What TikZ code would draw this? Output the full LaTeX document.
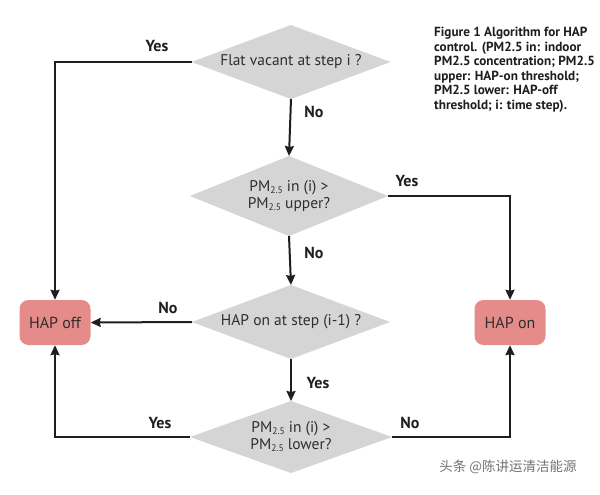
\documentclass[tikz,border=0pt]{standalone}
\usepackage{fontspec}
\setmainfont{PT Sans}
\newfontfamily\cjk{Noto Sans CJK SC}
\usetikzlibrary{arrows.meta}
\definecolor{dgrey}{HTML}{D5D5D5}
\definecolor{salmon}{HTML}{E58C8A}
\definecolor{ink}{HTML}{2E2E2E}
\definecolor{lineink}{HTML}{1E1E1E}
\newcommand{\pmsub}{PM{\fontsize{9.5}{9.5}\selectfont\raisebox{-2pt}{2.5}}}
% #1 name, #2 x, #3 y, #4 half width, #5 half height, #6 text
\newcommand{\decisionat}[6]{%
  \coordinate (#1-w) at (#2-#4,#3);
  \coordinate (#1-e) at (#2+#4,#3);
  \coordinate (#1-n) at (#2,#3-#5);
  \coordinate (#1-s) at (#2,#3+#5);
  \fill[dgrey] (#1-w) -- (#1-n) -- (#1-e) -- (#1-s) -- cycle;
  \node[decisiontext] (#1) at (#2,#3) {#6};
}
\tikzset{
  decisiontext/.style={align=center, text=ink, inner sep=0pt,
    font=\fontsize{15.5}{17}\selectfont},
  statebox/.style={rectangle, rounded corners=9pt, fill=salmon, draw=none, minimum width=71pt,
    minimum height=45pt, text=ink, font=\fontsize{16}{18}\selectfont},
  conn/.style={line width=2pt, draw=lineink, -{Stealth[length=10pt,width=9pt,inset=1pt]}},
  lbl/.style={font=\bfseries\fontsize{16}{18}\selectfont, text=lineink}
}
\begin{document}
\begin{tikzpicture}[x=1pt,y=-1pt]
\useasboundingbox (0,0) rectangle (600,495);
\fill[white] (0,0) rectangle (600,495);
\decisionat{d1}{291}{62}{99.5}{37}{Flat vacant at step i ?}
\decisionat{d2}{289}{196}{99}{40}{\pmsub\ in (i) >\\\pmsub\ upper?}
\decisionat{d3}{291}{322}{99}{37}{HAP on at step (i-1) ?}
\decisionat{d4}{291}{437}{101}{36}{\pmsub\ in (i) >\\\pmsub\ lower?}
\node[statebox] (off) at (55,322.5) {HAP off};
\node[statebox] (on) at (510,322.5) {HAP on};

\draw[conn] (d1-w) -- (off.north |- d1-w) -- (off.north);
\draw[conn] (d1-s) -- (d2-n);
\draw[conn] (d2-e) -- (on.north |- d2-e) -- (on.north);
\draw[conn] (d2-s) -- (d3-n);
\draw[conn] (d3-w) -- (off.east);
\draw[conn] (d3-s) -- (d4-n);
\draw[conn] (d4-w) -- (off.south |- d4-w) -- (off.south);
\draw[conn] (d4-e) -- (on.south |- d4-e) -- (on.south);

\node[lbl] (y1) at (157,46) {Yes};
\node[lbl] (n1) at (314,112) {No};
\node[lbl] (y2) at (407,181) {Yes};
\node[lbl] (n2) at (314,253) {No};
\node[lbl] (n3) at (168,308) {No};
\node[lbl] (y3) at (318,383) {Yes};
\node[lbl] (y4) at (160,423) {Yes};
\node[lbl] (n4) at (410,423) {No};

\node[anchor=north west, align=left, inner sep=0pt, text=lineink,
  font=\bfseries\fontsize{13.2}{14.6}\selectfont] (cap) at (434,27)
  {Figure 1 Algorithm for HAP\\control. (PM2.5 in: indoor\\PM2.5 concentration; PM2.5\\upper: HAP-on threshold;\\PM2.5 lower: HAP-off\\threshold; i: time step).};
\node[text=black!55, font=\cjk\fontsize{13.5}{15}\selectfont] (wm) at (508,467) {头条 @陈讲运清洁能源};
\end{tikzpicture}
\end{document}
